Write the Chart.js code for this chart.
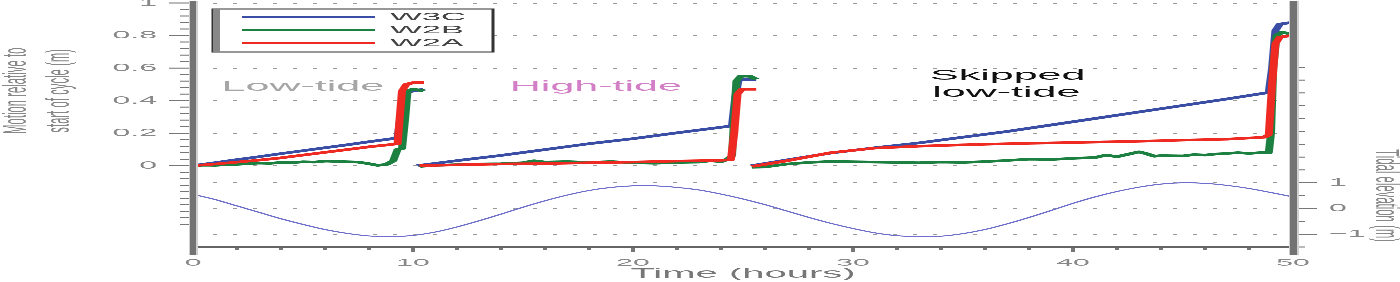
<!DOCTYPE html>
<html>
<head>
<meta charset="UTF-8">
<title>Motion relative to start of cycle</title>
<style>
  body { margin: 0; padding: 0; background: #fff; overflow: hidden; }
  /* the figure is drawn tall and squeezed, like the original stretched image */
  #wrap { width: 1400px; height: 846px; transform: scaleY(0.3333333); transform-origin: 0 0; }
</style>
</head>
<body>
<div id="wrap"><canvas id="myChart" width="1400" height="846"></canvas></div>

<script src="https://cdn.jsdelivr.net/npm/chart.js"></script>
<script>
// ---- data (time in hours, motion in m, tide in m) ----
var w3cTime = [0, 1, 2, 3, 4, 5, 6, 7, 8, 9, 9.3, 9.45, 9.6, 10.5,
  10.35,
  10.2, 12, 14, 16, 18, 20, 22, 24, 24.5, 24.65, 24.8, 25.6,
  25.5,
  25.4, 27, 29, 31, 33, 35, 37, 39, 41, 43, 45, 47, 48.9, 49.05, 49.2, 49.4, 49.9];
var w3cValues = [0, 0.018, 0.037, 0.055, 0.074, 0.092, 0.11, 0.128, 0.147, 0.165, 0.172, 0.32, 0.45, 0.47,
  null,
  0, 0.031, 0.063, 0.099, 0.135, 0.166, 0.202, 0.236, 0.245, 0.42, 0.53, 0.53,
  null,
  0, 0.035, 0.078, 0.11, 0.14, 0.175, 0.21, 0.25, 0.29, 0.33, 0.37, 0.41, 0.45, 0.6, 0.83, 0.87, 0.88];

var w2bTime = [0, 0.5, 1, 1.5, 2, 2.5, 3, 3.5, 4, 4.5, 5, 5.5, 6, 6.5, 7, 7.5, 8, 8.4, 8.8, 9.1, 9.3, 9.5, 9.65, 9.75, 10, 10.5,
  10.4,
  10.3, 11, 12, 13, 14, 15, 15.5, 16, 17, 18, 19, 20, 21, 22, 23, 23.5, 24, 24.3, 24.5, 24.6, 24.7, 24.9, 25.3, 25.6,
  25.5,
  25.4, 26, 27, 28, 29, 30, 31, 32, 33, 34, 35, 36, 37, 38, 39, 40, 41, 41.5, 42, 42.5, 43, 43.3, 43.7, 44, 45, 45.5, 46,
  46.5, 47, 47.5, 48, 48.5, 48.9, 49, 49.1, 49.25, 49.5, 49.9];
var w2bValues = [0, 0.003, 0.002, 0.006, 0.008, 0.012, 0.016, 0.014, 0.02, 0.018, 0.024, 0.022, 0.028, 0.026, 0.024, 0.022,
  0.012, 0.002, 0.008, 0.03, 0.1, 0.105, 0.3, 0.46, 0.47, 0.46,
  null,
  -0.005, 0.002, 0.006, 0.01, 0.012, 0.018, 0.03, 0.022, 0.025, 0.02, 0.025, 0.018, 0.015, 0.02, 0.022, 0.03, 0.025, 0.04,
  0.06, 0.3, 0.52, 0.55, 0.55, 0.53,
  null,
  -0.01, -0.008, 0.01, 0.02, 0.026, 0.024, 0.022, 0.02, 0.018, 0.022, 0.02, 0.025, 0.032, 0.04, 0.038, 0.045, 0.05, 0.065,
  0.055, 0.07, 0.085, 0.075, 0.058, 0.062, 0.06, 0.068, 0.065, 0.072, 0.075, 0.08, 0.075, 0.08, 0.08, 0.2, 0.6, 0.8, 0.82, 0.81];

var w2aTime = [0, 1, 2, 3, 4, 5, 6, 7, 8, 9, 9.3, 9.4, 9.5, 9.7, 10, 10.5,
  10.4,
  10.3, 12, 14, 16, 18, 20, 22, 24, 24.45, 24.6, 24.75, 24.95, 25.6,
  25.5,
  25.4, 27, 29, 31, 33, 35, 37, 39, 41, 43, 45, 47, 48.7, 48.9, 49.05, 49.2, 49.4, 49.9];
var w2aValues = [0, 0.01, 0.022, 0.034, 0.048, 0.065, 0.082, 0.099, 0.116, 0.13, 0.135, 0.3, 0.46, 0.5, 0.51, 0.51,
  null,
  0, 0.005, 0.01, 0.013, 0.018, 0.022, 0.028, 0.033, 0.036, 0.2, 0.44, 0.47, 0.47,
  null,
  -0.005, 0.03, 0.08, 0.108, 0.12, 0.128, 0.135, 0.14, 0.145, 0.15, 0.157, 0.163, 0.175, 0.19, 0.5, 0.75, 0.79, 0.8];

var tideTime = [0, 1, 2, 3, 4, 5, 6, 7, 8, 9, 10, 11, 12, 13, 14, 15, 16, 17, 18, 19, 20, 21, 22, 23, 24, 25,
  26, 27, 28, 29, 30, 31, 32, 33, 34, 35, 36, 37, 38, 39, 40, 41, 42, 43, 44, 45, 46, 47, 48, 49, 50];
var tideLevel = [0.55, 0.35, 0.1, -0.15, -0.4, -0.62, -0.82, -0.97, -1.07, -1.1, -1.05, -0.92, -0.72, -0.48, -0.22,
  0.05, 0.3, 0.52, 0.7, 0.82, 0.88, 0.88, 0.82, 0.72, 0.56, 0.37, 0.15, -0.1, -0.35, -0.58, -0.78, -0.95, -1.06, -1.1,
  -1.08, -0.98, -0.82, -0.6, -0.35, -0.08, 0.2, 0.45, 0.66, 0.83, 0.95, 1.0, 0.98, 0.9, 0.78, 0.62, 0.45];

var legendLabels = ['W3C', 'W2B', 'W2A'];

var xTickValues = [0, 10, 20, 30, 40, 50];
var xTickLabels = ['0', '10', '20', '30', '40', '50'];
var leftTickValues = [0, 0.2, 0.4, 0.6, 0.8, 1];
var leftTickLabels = ['0', '0.2', '0.4', '0.6', '0.8', '1'];
var rightTickValues = [-1, 0, 1];
var rightTickLabels = ['\u22121', '0', '1'];

var notes = ['Low-tide', 'High-tide', 'Skipped', 'low-tide'];
var noteTimes = [1.3, 14.4, 33.5, 33.6];
var noteValues = [0.485, 0.485, 0.552, 0.448];
var noteColors = ['#a6a6a6', '#d27fc6', '#111', '#111'];

// ---- helpers ----
function points(t, v) {
  return t.map(function (x, i) { return { x: x, y: v[i] }; });
}
function near(v, list) {
  for (var i = 0; i < list.length; i++) if (Math.abs(list[i] - v) < 1e-6) return i;
  return -1;
}
function steps(from, to, step) {
  var out = [];
  for (var v = from; v <= to + 1e-9; v += step) out.push({ value: Math.round(v * 1000) / 1000 });
  return out;
}

Chart.defaults.font.family = '"Liberation Sans", Arial, sans-serif';

// axis bars, tick marks, legend, annotations and side titles
var decor = {
  id: 'decor',
  afterDraw: function (chart) {
    var ctx = chart.ctx, a = chart.chartArea;
    var sx = chart.scales.x, sy = chart.scales.y, sy2 = chart.scales.y2;
    ctx.save();

    // legend box
    var bx = a.left + 20, by = a.top + 18, bw = 280, bh = 129;
    ctx.fillStyle = '#fff';
    ctx.fillRect(bx, by, bw, bh);
    ctx.strokeStyle = '#333';
    ctx.lineWidth = 3;
    ctx.strokeRect(bx, by, bw, bh);
    ctx.fillStyle = '#888';
    ctx.fillRect(bx, by, 7, bh);
    ctx.font = '34px "Liberation Sans", Arial, sans-serif';
    ctx.textAlign = 'left';
    ctx.textBaseline = 'middle';
    legendLabels.forEach(function (lab, i) {
      var ds = chart.data.datasets.filter(function (d) { return d.label === lab; })[0];
      var ly = by + 25 + i * 39;
      ctx.strokeStyle = ds.borderColor;
      ctx.lineWidth = 6;
      ctx.beginPath();
      ctx.moveTo(bx + 29, ly);
      ctx.lineTo(bx + 162, ly);
      ctx.stroke();
      ctx.fillStyle = '#444';
      ctx.fillText(lab, bx + 177, ly);
    });

    // annotations
    notes.forEach(function (txt, i) {
      ctx.font = '43px "Liberation Sans", Arial, sans-serif';
      ctx.fillStyle = noteColors[i];
      ctx.fillText(txt, sx.getPixelForValue(noteTimes[i]), sy.getPixelForValue(noteValues[i]));
    });

    // tick marks
    ctx.strokeStyle = '#777';
    ctx.lineWidth = 3;
    ctx.beginPath();
    sy.ticks.forEach(function (t) {
      var p = sy.getPixelForValue(t.value), len = near(t.value, leftTickValues) >= 0 ? 24 : 13;
      ctx.moveTo(a.left - len, p); ctx.lineTo(a.left, p);
    });
    sy2.ticks.forEach(function (t) {
      var p = sy2.getPixelForValue(t.value), len = near(t.value, rightTickValues) >= 0 ? 24 : 12;
      ctx.moveTo(a.right, p); ctx.lineTo(a.right + len, p);
    });
    ctx.stroke();
    sx.ticks.forEach(function (t) {
      var p = sx.getPixelForValue(t.value), len = near(t.value, xTickValues) >= 0 ? 15 : 10;
      ctx.fillStyle = '#777';
      ctx.fillRect(p - 2, a.bottom, 4, len);
    });

    // axis lines
    ctx.fillStyle = '#666';
    ctx.fillRect(a.left, a.bottom - 2, a.right - a.left, 5);
    ctx.fillStyle = '#d0d0d0';
    ctx.fillRect(a.left - 4, a.top - 6, 9, a.bottom - a.top + 30);
    ctx.fillRect(a.right - 4, a.top - 6, 10, a.bottom - a.top + 30);
    ctx.fillStyle = '#737373';
    ctx.fillRect(a.left - 3, a.top - 6, 6, a.bottom - a.top + 30);
    ctx.fillRect(a.right - 3, a.top - 6, 7, a.bottom - a.top + 30);

    // y titles
    ctx.fillStyle = '#888';
    ctx.font = '34px "Liberation Sans", Arial, sans-serif';
    ctx.textAlign = 'center';
    ctx.save();
    ctx.translate(17, sy.getPixelForValue(0.46));
    ctx.rotate(-Math.PI / 2);
    ctx.fillText('Motion relative to', 0, 0);
    ctx.fillText('start of cycle (m)', 0, 43);
    ctx.restore();
    ctx.save();
    ctx.translate(1385, sy2.getPixelForValue(0.5));
    ctx.rotate(Math.PI / 2);
    ctx.fillText('Tidal elevation (m)', 0, 0);
    ctx.restore();

    ctx.restore();
  }
};

var lineStyle = { pointRadius: 0, borderWidth: 8, tension: 0, spanGaps: false, borderJoinStyle: 'round', borderCapStyle: 'butt', fill: false };

var ctx = document.getElementById('myChart').getContext('2d');
var chart = new Chart(ctx, {
  type: 'line',
  data: {
    datasets: [
      Object.assign({ label: 'W2A', data: points(w2aTime, w2aValues), borderColor: '#ee2a22', order: 1, yAxisID: 'y' }, lineStyle),
      Object.assign({ label: 'W2B', data: points(w2bTime, w2bValues), borderColor: '#1c8040', order: 2, yAxisID: 'y' }, lineStyle),
      Object.assign({ label: 'W3C', data: points(w3cTime, w3cValues), borderColor: '#3a4ea6', order: 3, yAxisID: 'y' }, lineStyle),
      { label: 'Tide', data: points(tideTime, tideLevel), borderColor: '#6e6ecb', borderWidth: 3, pointRadius: 0,
        tension: 0.3, order: 4, yAxisID: 'y2', fill: false }
    ]
  },
  options: {
    responsive: false,
    animation: false,
    devicePixelRatio: 1,
    layout: { padding: { top: 9, left: 0, right: 0, bottom: 0 } },
    plugins: { legend: { display: false }, tooltip: { enabled: false } },
    scales: {
      x: {
        type: 'linear', min: 0, max: 50,
        afterBuildTicks: function (s) { s.ticks = steps(0, 50, 2); },
        afterFit: function (s) { s.height = 105; s.paddingLeft = 0; s.paddingRight = 0; },
        ticks: {
          autoSkip: false, maxRotation: 0, minRotation: 0, padding: 15, color: '#888', font: { size: 30 },
          callback: function (v) { var i = near(v, xTickValues); return i >= 0 ? xTickLabels[i] : ''; }
        },
        grid: { drawOnChartArea: false, drawTicks: true, tickLength: 15, tickWidth: 0 },
        border: { display: false },
        title: { display: true, text: 'Time (hours)', color: '#777', font: { size: 40 }, padding: 0 }
      },
      y: {
        position: 'left', min: -0.5, max: 1,
        afterBuildTicks: function (s) { s.ticks = steps(-0.36, 1, 0.04); },
        afterFit: function (s) { s.width = 193; s.paddingTop = 0; s.paddingBottom = 0; },
        ticks: {
          autoSkip: false, padding: 12, color: '#888', font: { size: 32 },
          callback: function (v) { var i = near(v, leftTickValues); return i >= 0 ? leftTickLabels[i] : ''; }
        },
        grid: {
          drawTicks: true, tickLength: 24, tickWidth: 0, color: '#9a9a9a',
          lineWidth: function (c) { return c.tick && near(c.tick.value, leftTickValues) >= 0 ? 3 : 0; }
        },
        border: { display: false, dash: [4, 16] }
      },
      y2: {
        position: 'right', min: -1.5, max: 8,
        afterBuildTicks: function (s) { s.ticks = steps(-1.5, 5.5, 0.5); },
        afterFit: function (s) { s.width = 107; s.paddingTop = 0; s.paddingBottom = 0; },
        ticks: {
          autoSkip: false, padding: 12, color: '#888', font: { size: 32 },
          callback: function (v) { var i = near(v, rightTickValues); return i >= 0 ? rightTickLabels[i] : ''; }
        },
        grid: {
          drawTicks: true, tickLength: 24, tickWidth: 0, color: '#9a9a9a',
          lineWidth: function (c) { return c.tick && near(c.tick.value, rightTickValues) >= 0 ? 3 : 0; }
        },
        border: { display: false, dash: [4, 16] }
      }
    }
  },
  plugins: [decor]
});
</script>
</body>
</html>
